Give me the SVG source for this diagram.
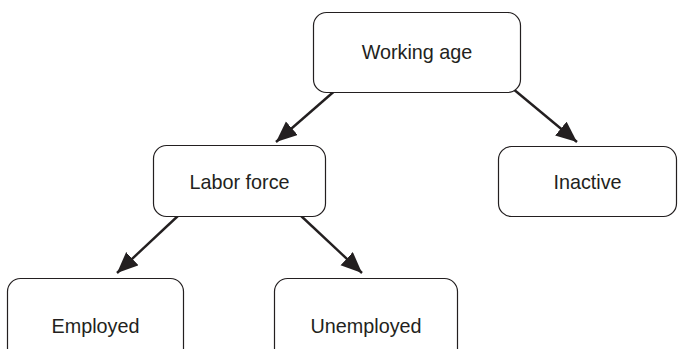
<svg xmlns="http://www.w3.org/2000/svg" width="680" height="349" viewBox="0 0 680 349">
<style>
.box{fill:#fff;stroke:#231f20;stroke-width:1.2}
.lbl{font-family:"Liberation Sans",Arial,sans-serif;font-size:19.8px;fill:#231f20;text-anchor:middle}
.edge{stroke:#231f20;stroke-width:2.4;fill:none;marker-end:url(#ah)}
</style>
<defs>
<marker id="ah" markerUnits="userSpaceOnUse" markerWidth="24" markerHeight="20" refX="21" refY="9" orient="auto">
<path d="M0,0 L21,9 L0,18 Z" fill="#231f20"/>
</marker>
</defs>
<g id="connectors">
<line class="edge" x1="338" y1="88" x2="276" y2="142"/>
<line class="edge" x1="512" y1="88" x2="577" y2="142"/>
<line class="edge" x1="180" y1="214" x2="117" y2="273"/>
<line class="edge" x1="299" y1="214" x2="362" y2="273"/>
</g>
<g id="working-age">
<rect class="box" x="313.5" y="12.5" width="207" height="80" rx="13"/>
<text class="lbl" x="417" y="59">Working age</text>
</g>
<g id="labor-force">
<rect class="box" x="153.5" y="145.5" width="172" height="71" rx="13"/>
<text class="lbl" x="239.5" y="188.5">Labor force</text>
</g>
<g id="inactive">
<rect class="box" x="498.5" y="146.5" width="178" height="70" rx="13"/>
<text class="lbl" x="587.5" y="188.5">Inactive</text>
</g>
<g id="employed">
<rect class="box" x="7.5" y="278.5" width="176" height="90" rx="13"/>
<text class="lbl" x="95.5" y="332.5">Employed</text>
</g>
<g id="unemployed">
<rect class="box" x="274.5" y="278.5" width="183" height="90" rx="13"/>
<text class="lbl" x="366" y="332.5">Unemployed</text>
</g>
</svg>
